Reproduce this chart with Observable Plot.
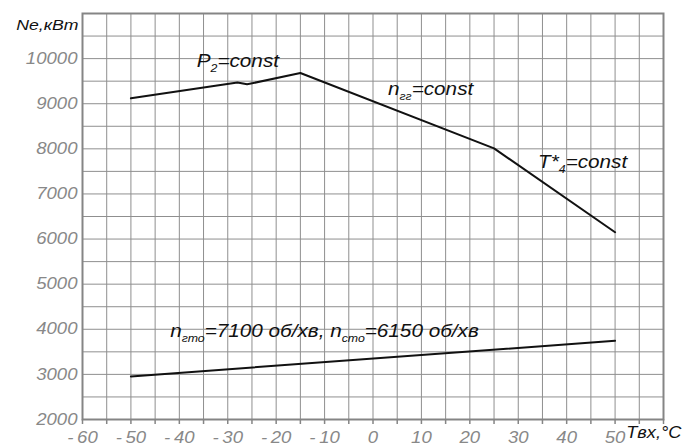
<!DOCTYPE html>
<html><head><meta charset="utf-8">
<script src="https://cdn.jsdelivr.net/npm/d3@7"></script>
<script src="https://cdn.jsdelivr.net/npm/@observablehq/plot@0.6"></script>
<style>
body{margin:0;background:#fff}
</style></head><body><div id="chart"></div>
<script>
// Upper curve: Ne (kW) vs inlet temperature (°C)
const tempUpper = [-50, -28, -26, -15, 25, 50];
const powerUpper = [9120, 9470, 9430, 9680, 8010, 6150];
// Lower curve
const tempLower = [-50, 50];
const powerLower = [2955, 3745];
// Tick labels
const xTickValues = [-60, -50, -40, -30, -20, -10, 0, 10, 20, 30, 40, 50];
const yTickValues = [2000, 3000, 4000, 5000, 6000, 7000, 8000, 9000, 10000];
// Annotations (data coordinates)
const labelTexts = ["P_{2}=const", "n_{гг}=const", "T*_{4}=const", "n_{гто}=7100 об/хв, n_{сто}=6150 об/хв"];
const labelTemp = [-36.4, 3.1, 34.1, -41.9];
const labelPower = [9944, 9329, 7711, 3956];
const yAxisTitle = "Ne,кВт";
const xAxisTitle = "Tвх,°C";

const upper = tempUpper.map((t, i) => ({t, p: powerUpper[i]}));
const lower = tempLower.map((t, i) => ({t, p: powerLower[i]}));
const labels = labelTexts.map((s, i) => ({s, t: labelTemp[i], p: labelPower[i]}));
const fmt = d => d < 0 ? "-\u2009" + Math.abs(d) : String(d);

const plot = Plot.plot({
  width: 694, height: 447,
  marginLeft: 82, marginRight: 31, marginTop: 13, marginBottom: 28,
  x: {domain: [-60, 60]},
  y: {domain: [2000, 11000]},
  style: {fontFamily: "'Liberation Sans', Arial, sans-serif", background: "#fff", overflow: "visible"},
  marks: [
    Plot.gridX(d3.range(-60, 61, 5), {stroke: "#8f8f8f", strokeOpacity: 1, strokeWidth: 1}),
    Plot.gridY(d3.range(2000, 11001, 500), {stroke: "#8f8f8f", strokeOpacity: 1, strokeWidth: 1}),
    Plot.frame({stroke: "#858585", strokeWidth: 2}),
    Plot.axisX({ticks: d3.range(-60, 61, 5), tickSize: 5, tickPadding: 7, stroke: "#858585", strokeWidth: 1.5,
      tickFormat: d => xTickValues.includes(d) ? fmt(d) : "", fill: "#888",
      fontSize: 16.3, fontStyle: "italic", label: null}),
    Plot.axisY({ticks: yTickValues, tickSize: 0, tickPadding: 5, fill: "#888",
      tickFormat: d => String(d), fontSize: 16.3, fontStyle: "italic", label: null}),
    Plot.line(upper, {x: "t", y: "p", stroke: "#111", strokeWidth: 2}),
    Plot.line(lower, {x: "t", y: "p", stroke: "#111", strokeWidth: 2}),
    Plot.text(labels, {x: "t", y: "p", text: "s", textAnchor: "start", fontSize: 18.5, fontStyle: "italic", fill: "#111"}),
    Plot.text([yAxisTitle], {text: d => d, frameAnchor: "top-left", dx: -4, dy: 5, textAnchor: "end", fontSize: 15.5, fontStyle: "italic", fill: "#111"}),
    Plot.text([xAxisTitle], {text: d => d, x: 52.3, frameAnchor: "bottom", dy: 18, textAnchor: "start", fontSize: 16, fontStyle: "italic", fill: "#111"})
  ]
});
document.getElementById("chart").appendChild(plot);

// render subscripts
d3.select(plot).selectAll("text").each(function() {
  const el = d3.select(this);
  const s = this.textContent;
  if (!s.includes("_{")) return;
  el.text("");
  const parts = s.split(/_\{([^}]*)\}/);
  let shifted = false;
  parts.forEach((part, i) => {
    if (part === "") { return; }
    const sub = i % 2 === 1;
    const ts = el.append("tspan").text(part);
    if (sub) { ts.attr("font-size", 11).attr("dy", shifted ? 0 : 5); shifted = true; }
    else if (shifted) { ts.attr("dy", -5); shifted = false; }
  });
});
// the reference typeface is horizontally wider than Arial: widen glyphs about each text's anchor
d3.select(plot).selectAll("text").each(function() {
  if (!this.textContent) return;
  const k = /const|об/.test(this.textContent) ? 1.12 : 1.14;
  let tr = this.getAttribute("transform");
  if (!tr) {
    const x = +(this.getAttribute("x") || 0), y = +(this.getAttribute("y") || 0);
    this.removeAttribute("x"); this.removeAttribute("y");
    tr = `translate(${x},${y})`;
  }
  this.setAttribute("transform", tr + ` scale(${k},1)`);
});
</script></body></html>
